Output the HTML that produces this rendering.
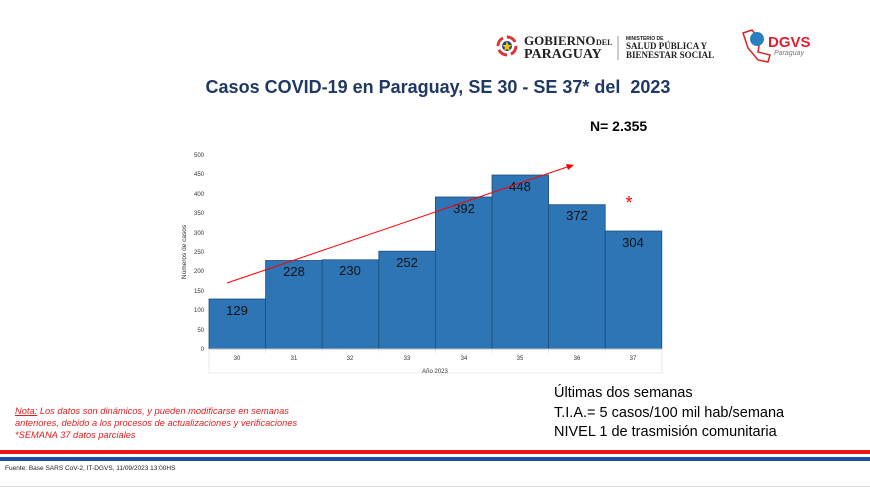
<!DOCTYPE html>
<html><head><meta charset="utf-8"><style>
body{margin:0;width:870px;height:488px;background:#fff;position:relative;overflow:hidden;font-family:"Liberation Sans",sans-serif}
.a{position:absolute;white-space:nowrap}
</style></head><body>
<svg class="a" style="left:0;top:0" width="870" height="488">
<circle cx="507" cy="46" r="9" fill="none" stroke="#d33" stroke-width="3" stroke-dasharray="10 4"/>
<circle cx="507" cy="46" r="5" fill="#1a3f8f"/>
<polygon points="507,41 508.5,45 512,45 509,47.5 510,51 507,49 504,51 505,47.5 502,45 505.5,45" fill="#f5c400"/>
<text x="524" y="45" font-family="Liberation Serif" font-weight="bold" font-size="13" fill="#222">GOBIERNO</text>
<text x="596" y="45" font-family="Liberation Serif" font-weight="bold" font-size="8" fill="#222">DEL</text>
<text x="524" y="58" font-family="Liberation Serif" font-weight="bold" font-size="14" fill="#222">PARAGUAY</text>
<line x1="618" y1="36" x2="618" y2="60" stroke="#999"/>
<text x="626" y="40" font-size="5" font-weight="bold" fill="#222">MINISTERIO DE</text>
<text x="626" y="49" font-family="Liberation Serif" font-weight="bold" font-size="9" fill="#222">SALUD PÚBLICA Y</text>
<text x="626" y="58" font-family="Liberation Serif" font-weight="bold" font-size="9" fill="#222">BIENESTAR SOCIAL</text>
<path d="M743,33 L752,30 L760,40 L758,52 L770,55 L768,62 L758,60 L748,48 Z" fill="none" stroke="#d22" stroke-width="1.5"/>
<circle cx="757" cy="39" r="7" fill="#2a7fc0"/>
<text x="768" y="47" font-size="15" font-weight="bold" fill="#e02030">DGVS</text>
<text x="774" y="55" font-size="7" font-style="italic" fill="#777">Paraguay</text>
<g font-size="6" fill="#333" text-anchor="end">
<text x="204" y="351">0</text><text x="204" y="332">50</text><text x="204" y="312">100</text><text x="204" y="293">150</text><text x="204" y="273">200</text><text x="204" y="254">250</text><text x="204" y="235">300</text><text x="204" y="215">350</text><text x="204" y="196">400</text><text x="204" y="176">450</text><text x="204" y="157">500</text>
</g>
<text transform="translate(186,252) rotate(-90)" font-size="6.5" fill="#333" text-anchor="middle">Números de casos</text>
<g fill="#2e75b6" stroke="#1f4e79" stroke-width="0.8">
<rect x="209" y="299" width="56.6" height="50"/>
<rect x="265.6" y="260.5" width="56.6" height="88.5"/>
<rect x="322.2" y="259.8" width="56.6" height="89.2"/>
<rect x="378.8" y="251.2" width="56.6" height="97.8"/>
<rect x="435.4" y="197" width="56.6" height="152"/>
<rect x="492" y="175" width="56.6" height="174"/>
<rect x="548.6" y="204.7" width="56.6" height="144.3"/>
<rect x="605.2" y="231" width="56.6" height="118"/>
</g>
<g font-size="13" fill="#111" text-anchor="middle">
<text x="237" y="315">129</text><text x="294" y="276">228</text><text x="350" y="275">230</text><text x="407" y="267">252</text><text x="464" y="213">392</text><text x="520" y="191">448</text><text x="577" y="220">372</text><text x="633" y="247">304</text>
</g>
<line x1="209" y1="349" x2="662" y2="349" stroke="#bbb"/>
<path d="M209,349 V373 H662 V349 M265.6,349v4 M322.2,349v4 M378.8,349v4 M435.4,349v4 M492,349v4 M548.6,349v4 M605.2,349v4" fill="none" stroke="#ddd" stroke-width="0.6"/>
<g font-size="6" fill="#333" text-anchor="middle">
<text x="237" y="360">30</text><text x="294" y="360">31</text><text x="350" y="360">32</text><text x="407" y="360">33</text><text x="464" y="360">34</text><text x="520" y="360">35</text><text x="577" y="360">36</text><text x="633" y="360">37</text>
<text x="435" y="373">Año 2023</text>
</g>
<line x1="227" y1="283" x2="570" y2="166" stroke="#f00" stroke-width="1"/>
<polygon points="574,165 566,164 568,170" fill="#f00"/>
<text x="629" y="209" font-size="18" fill="#f00" text-anchor="middle">*</text>
<rect x="0" y="450" width="870" height="4" fill="#e8141c"/>
<rect x="0" y="457" width="870" height="4" fill="#1b4fa8"/>
<line x1="0" y1="486.5" x2="870" y2="486.5" stroke="#ddd"/>
</svg>
<div class="a" style="left:0;width:870px;top:77px;text-align:center;font-size:18px;font-weight:bold;color:#1f3864;padding-left:6px;box-sizing:border-box">Casos COVID-19 en Paraguay, SE 30 - SE 37* del&nbsp; 2023</div>
<div class="a" style="left:590px;top:118px;font-size:14px;font-weight:bold;color:#000">N= 2.355</div>
<div class="a" style="left:554px;top:384px;font-size:14.5px;line-height:19.5px;color:#000">Últimas dos semanas<br>T.I.A.= 5 casos/100 mil hab/semana<br>NIVEL 1 de trasmisión comunitaria</div>
<div class="a" style="left:15px;top:405px;font-size:9.3px;line-height:12px;font-style:italic;color:#e02020"><u>Nota:</u> Los datos son dinámicos, y pueden modificarse en semanas<br>anteriores, debido a los procesos de actualizaciones y verificaciones<br>*SEMANA 37 datos parciales</div>
<div class="a" style="left:5px;top:465px;font-size:6.5px;color:#222">Fuente: Base SARS CoV-2, IT-DGVS, 11/09/2023 13:00HS</div>
</body></html>
